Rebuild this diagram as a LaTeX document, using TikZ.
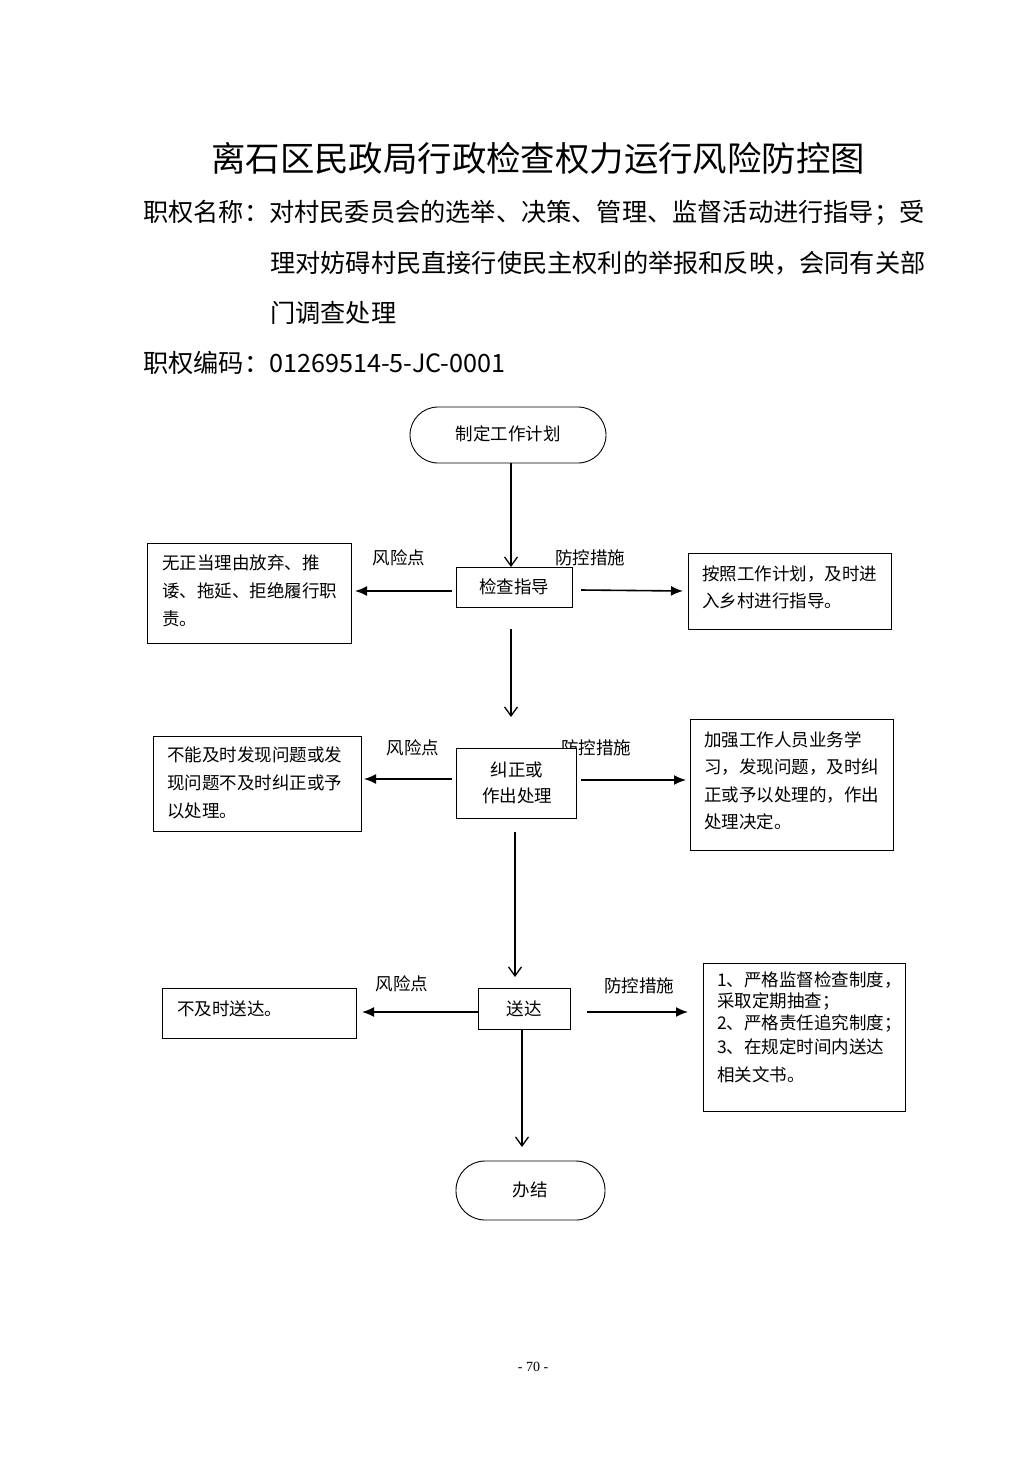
\documentclass[tikz,border=0pt]{standalone}
\usepackage{fontspec}
\setmainfont{Liberation Serif}
\newfontfamily\cjk{Noto Sans CJK SC}
\usetikzlibrary{arrows.meta}
\XeTeXlinebreaklocale "zh"
\XeTeXlinebreakskip=0pt plus 8pt
\newcommand{\jline}[1]{\makebox[178pt][s]{#1}}
\tikzset{
  box/.style={draw=black, line width=0.9pt, fill=white, inner sep=0pt},
  stadium/.style={draw=black, line width=0.9pt, fill=white, inner sep=0pt},
  txt/.style={font=\cjk\fontsize{17.5}{20}\selectfont, inner sep=0pt, anchor=west},
  ctxt/.style={font=\cjk\fontsize{17.5}{20}\selectfont, inner sep=0pt},
  lbl/.style={font=\cjk\fontsize{17.5}{20}\selectfont, inner sep=0pt},
  harrow/.style={line width=1.6pt, -{Latex[length=12pt,width=10pt]}},
  varrow/.style={line width=1.3pt, -{Straight Barb[length=9pt,width=13pt,line width=1.3pt]}},
  head/.style={font=\cjk\fontsize{25.2}{28}\selectfont, inner sep=0pt, anchor=west},
}
\begin{document}
\begin{tikzpicture}[x=1pt,y=-1pt]
\useasboundingbox[fill=white] (0,0) rectangle (1033,1461);

% Title and header
\node[font=\cjk\fontsize{34.4}{38}\selectfont, inner sep=0pt] (title) at (538,158) {离石区民政局行政检查权力运行风险防控图};
\node[head] (h1) at (143,213) {职权名称：对村民委员会的选举、决策、管理、监督活动进行指导；受};
\node[head] (h2) at (270,263) {理对妨碍村民直接行使民主权利的举报和反映，会同有关部};
\node[head] (h3) at (270,313) {门调查处理};
\node[head] (h4) at (143,363) {职权编码：01269514-5-JC-0001};

% Start
\draw[stadium, rounded corners=28pt] (410,407) rectangle (606,463);
\node[ctxt] (start) at (508,434) {制定工作计划};
\coordinate (startb) at (511,463);

% Step 1
\node[lbl] (r1) at (399,558) {风险点};
\node[lbl] (p1) at (590,558) {防控措施};
\draw[box] (456,567) rectangle (572,607);
\node[ctxt] (check) at (514,587) {检查指导};
\coordinate (checkt) at (511,567);
\coordinate (checkl) at (452,591);
\coordinate (checkr) at (581,590);
\coordinate (checkb) at (511,629);

\draw[box] (147,543) rectangle (351,643);
\coordinate (l1e) at (355,591);
\node[txt] (l1a) at (162,563) {\jline{无正当理由放弃、推}};
\node[txt] (l1b) at (162,591) {\jline{诿、拖延、拒绝履行职}};
\node[txt] (l1c) at (162,619) {责。};

\draw[box] (688,553) rectangle (891,629);
\coordinate (rr1w) at (683,591);
\node[txt] (rr1a) at (702,574) {\jline{按照工作计划，及时进}};
\node[txt] (rr1b) at (702,601) {入乡村进行指导。};

\draw[varrow] (startb) -- (checkt);
\draw[harrow] (checkl) -- (l1e);
\draw[harrow] (checkr) -- (rr1w);

% Step 2
\node[lbl] (r2) at (413,748) {风险点};
\node[lbl] (p2) at (596,748) {防控措施};
\draw[box] (456,748) rectangle (576,818);
\node[ctxt] (fix1) at (517,770) {纠正或};
\node[ctxt] (fix2) at (517,796) {作出处理};
\coordinate (fixt) at (511,717);
\coordinate (fixl) at (452,779);
\coordinate (fixr) at (581,780);
\coordinate (fixb) at (515,832);

\draw[box] (153,736) rectangle (361,831);
\coordinate (l2e) at (364,779);
\node[txt] (l2a) at (167,755) {\jline{不能及时发现问题或发}};
\node[txt] (l2b) at (167,783) {\jline{现问题不及时纠正或予}};
\node[txt] (l2c) at (167,811) {以处理。};

\draw[box] (690,719) rectangle (893,850);
\coordinate (rr2w) at (686,780);
\node[txt] (rr2a) at (704,740) {\jline{加强工作人员业务学}};
\node[txt] (rr2b) at (704,767) {\jline{习，发现问题，及时纠}};
\node[txt] (rr2c) at (704,795) {\jline{正或予以处理的，作出}};
\node[txt] (rr2d) at (704,822) {处理决定。};

\draw[varrow] (checkb) -- (fixt);
\draw[harrow] (fixl) -- (l2e);
\draw[harrow] (fixr) -- (rr2w);

% Step 3
\node[lbl] (r3) at (402,984) {风险点};
\node[lbl] (p3) at (639,986) {防控措施};
\draw[box] (478,988) rectangle (570,1029);
\node[ctxt] (send) at (524,1009) {送达};
\coordinate (sendt) at (515,977);
\coordinate (sendl) at (478,1012);
\coordinate (sendr) at (587,1012);
\coordinate (sendb) at (522,1029);

\draw[box] (162,988) rectangle (356,1038);
\coordinate (l3e) at (362,1012);
\node[txt] (l3a) at (177,1009) {不及时送达。};

\draw[box] (703,963) rectangle (905,1111);
\coordinate (rr3w) at (688,1012);
\node[txt] (rr3a) at (717,980) {\makebox[177pt][s]{1、严格监督检查制度，}};
\node[txt] (rr3b) at (717,1001) {采取定期抽查；};
\node[txt] (rr3c) at (717,1023) {\makebox[177pt][s]{2、严格责任追究制度；}};
\node[txt] (rr3d) at (717,1047) {\makebox[177pt][s]{3、在规定时间内送达}};
\node[txt] (rr3e) at (717,1075) {相关文书。};

\draw[varrow] (fixb) -- (sendt);
\draw[harrow] (sendl) -- (l3e);
\draw[harrow] (sendr) -- (rr3w);

% End
\draw[stadium, rounded corners=29pt] (456,1161) rectangle (605,1220);
\node[ctxt] (endn) at (530,1190) {办结};
\coordinate (endt) at (522,1147);
\draw[varrow] (sendb) -- (endt);

% page number
\node[font=\fontsize{14}{16}\selectfont, inner sep=0pt] (page) at (533,1367) {- 70 -};
\end{tikzpicture}
\end{document}
